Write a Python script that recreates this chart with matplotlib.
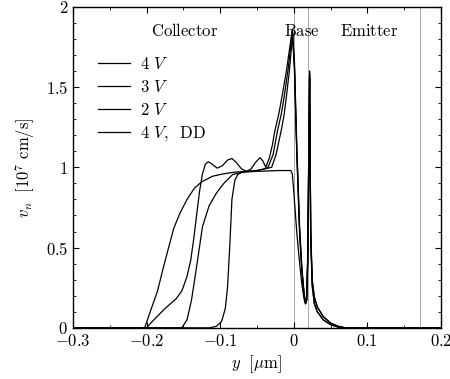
import numpy as np
import matplotlib
matplotlib.use("Agg")
from matplotlib import pyplot as plt

plt.rcParams['font.family'] = 'serif'
plt.rcParams['font.serif'] = ['cmr10']
plt.rcParams['mathtext.fontset'] = 'cm'
plt.rcParams['axes.formatter.use_mathtext'] = True

# region borders (grey vertical lines)
borders = [0.0, 0.019, 0.171]

# 4 V, hydrodynamic (overshoot with ripples)
x_4v = [-0.30, -0.200, -0.190, -0.175, -0.160, -0.152, -0.145, -0.140, -0.136, -0.132,
        -0.128, -0.124, -0.120, -0.116, -0.111, -0.104, -0.097, -0.090, -0.084, -0.078,
        -0.071, -0.064, -0.058, -0.052, -0.046, -0.042, -0.038, -0.033, -0.029, -0.026,
        -0.020, -0.016, -0.010, -0.005, -0.002, 0.001, 0.004, 0.008, 0.011, 0.014,
        0.016, 0.0175, 0.019, 0.0205, 0.0215, 0.022, 0.023, 0.025, 0.028, 0.032,
        0.040, 0.050, 0.060, 0.070, 0.20]
v_4v = [0.0, 0.0, 0.05, 0.12, 0.18, 0.23, 0.32, 0.42, 0.55, 0.70,
        0.85, 0.96, 1.02, 1.035, 1.02, 0.995, 1.01, 1.045, 1.055, 1.03,
        0.99, 0.975, 0.99, 1.03, 1.06, 1.04, 1.0, 1.06, 1.14, 1.22,
        1.34, 1.44, 1.60, 1.76, 1.86, 1.65, 1.15, 0.62, 0.38, 0.22,
        0.16, 0.18, 0.45, 1.15, 1.58, 1.25, 0.60, 0.30, 0.19, 0.13,
        0.07, 0.03, 0.01, 0.0, 0.0]

# 3 V (smooth rise from the same collector edge)
x_3v = [-0.30, -0.2025, -0.195, -0.185, -0.178, -0.170, -0.163, -0.155, -0.145, -0.135,
        -0.125, -0.110, -0.095, -0.080, -0.065, -0.050, -0.040, -0.035, -0.028, -0.022,
        -0.017, -0.013, -0.008, -0.004, -0.002, 0.001, 0.004, 0.008, 0.011, 0.014,
        0.016, 0.0175, 0.019, 0.0205, 0.0215, 0.022, 0.023, 0.025, 0.028, 0.032,
        0.040, 0.050, 0.060, 0.070, 0.20]
v_3v = [0.0, 0.0, 0.10, 0.23, 0.36, 0.50, 0.62, 0.71, 0.80, 0.87,
        0.91, 0.945, 0.96, 0.97, 0.975, 0.98, 0.99, 1.0, 1.08, 1.23,
        1.33, 1.44, 1.60, 1.76, 1.85, 1.62, 1.12, 0.60, 0.36, 0.21,
        0.15, 0.17, 0.42, 1.10, 1.56, 1.22, 0.58, 0.27, 0.15, 0.10,
        0.05, 0.02, 0.005, 0.0, 0.0]

# 2 V
x_2v = [-0.30, -0.152, -0.145, -0.139, -0.132, -0.124, -0.115, -0.105, -0.095, -0.083,
        -0.070, -0.060, -0.050, -0.040, -0.030, -0.024, -0.017, -0.013, -0.010, -0.006,
        -0.003, -0.0015, 0.001, 0.004, 0.008, 0.011, 0.014, 0.016, 0.0175, 0.019,
        0.0205, 0.0215, 0.022, 0.023, 0.025, 0.028, 0.032, 0.040, 0.050, 0.060,
        0.070, 0.20]
v_2v = [0.0, 0.0, 0.05, 0.17, 0.38, 0.63, 0.76, 0.84, 0.90, 0.955,
        0.97, 0.975, 0.98, 0.99, 1.0, 1.08, 1.23, 1.33, 1.44, 1.60,
        1.75, 1.84, 1.60, 1.10, 0.58, 0.35, 0.20, 0.15, 0.17, 0.40,
        1.05, 1.55, 1.20, 0.57, 0.26, 0.15, 0.10, 0.05, 0.02, 0.005,
        0.0, 0.0]

# 4 V, drift-diffusion (saturates, no overshoot)
x_dd = [-0.30, -0.114, -0.105, -0.098, -0.093, -0.090, -0.087, -0.084, -0.080, -0.076,
        -0.070, -0.050, -0.020, -0.004, -0.002, 0.000, 0.004, 0.008, 0.011, 0.014,
        0.016, 0.0175, 0.019, 0.0205, 0.0215, 0.022, 0.023, 0.025, 0.028, 0.032,
        0.040, 0.050, 0.060, 0.070, 0.20]
v_dd = [0.0, 0.0, 0.01, 0.04, 0.12, 0.25, 0.50, 0.80, 0.92, 0.955,
        0.97, 0.975, 0.98, 0.98, 0.96, 0.85, 0.60, 0.40, 0.27, 0.18,
        0.15, 0.17, 0.45, 1.15, 1.60, 1.28, 0.62, 0.30, 0.19, 0.13,
        0.07, 0.03, 0.01, 0.0, 0.0]

curves = [(x_4v, v_4v, r'4 $V$'), (x_3v, v_3v, r'3 $V$'),
          (x_2v, v_2v, r'2 $V$'), (x_dd, v_dd, r'4 $V$,  DD')]

fig = plt.figure(figsize=(4.5, 3.79), dpi=100)
ax = fig.add_axes([0.162, 0.135, 0.818, 0.847])

for b in borders:
    ax.axvline(b, color='#a8a8a8', lw=0.7, zorder=1)

lines = []
for x, v, lab in curves:
    ln, = ax.plot(x, v, color='black', lw=0.9, label=lab, zorder=2)
    lines.append(ln)

ax.set_xlim(-0.3, 0.2)
ax.set_ylim(0, 2)
ax.set_xticks([-0.3, -0.2, -0.1, 0, 0.1, 0.2])
ax.set_xticklabels([r'$-0.3$', r'$-0.2$', r'$-0.1$', r'$0$', r'$0.1$', r'$0.2$'])
ax.set_yticks([0, 0.5, 1, 1.5, 2])
ax.set_yticklabels([r'$0$', r'$0.5$', r'$1$', r'$1.5$', r'$2$'])
ax.set_xticks(np.arange(-0.3, 0.2001, 0.05), minor=True)
ax.set_yticks(np.arange(0, 2.001, 0.1), minor=True)
ax.tick_params(which='both', direction='in', top=True, right=True, labelsize=12)
ax.tick_params(which='major', length=4, width=0.8)
ax.tick_params(which='minor', length=2, width=0.6)
for s in ax.spines.values():
    s.set_linewidth(1.0)

ax.set_xlabel(r'$y\ \ [\mu\mathrm{m}]$', fontsize=12, labelpad=3)
ax.set_ylabel(r'$v_n\ \ [10^7\ \mathrm{cm/s}]$', fontsize=12, labelpad=6)

ax.text(-0.148, 1.85, r'$\mathrm{Collector}$', fontsize=12, ha='center', va='center')
ax.text(0.011, 1.85, r'$\mathrm{Base}$', fontsize=12, ha='center', va='center')
ax.text(0.103, 1.85, r'$\mathrm{Emitter}$', fontsize=12, ha='center', va='center')

ax.legend(handles=lines, loc='upper left', bbox_to_anchor=(0.05, 0.867), frameon=False,
          fontsize=12, handlelength=1.9, handletextpad=0.6, labelspacing=0.4,
          borderaxespad=0)

fig.savefig('out.png', dpi=100)
